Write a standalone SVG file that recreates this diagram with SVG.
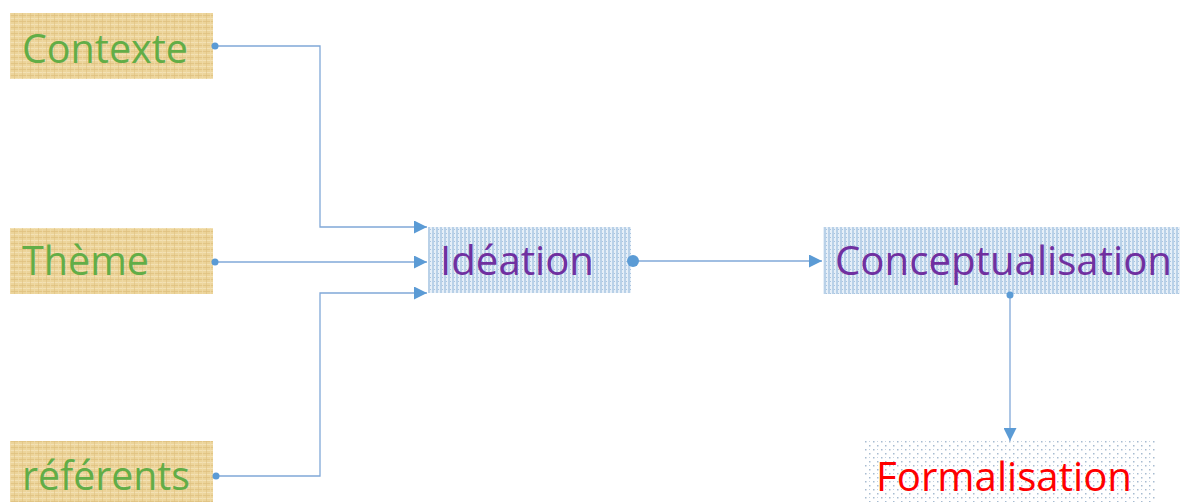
<svg xmlns="http://www.w3.org/2000/svg" width="1192" height="502" viewBox="0 0 1192 502">
<style>
.lbl{font-family:"Open Sans","Liberation Sans",sans-serif;font-size:40px}
.green{fill:#62ad47}
.purple{fill:#7030a0}
.red{fill:#ff0000}
.conn{fill:none;stroke:#80a8d8;stroke-width:1.3}
.dot{fill:#5b9bd5}
</style>
<defs>
<pattern id="papyrus" width="8" height="6" patternUnits="userSpaceOnUse">
<rect width="8" height="6" fill="#ecd49a"/>
<rect x="0" y="0" width="8" height="1" fill="#f3e1b4"/>
<rect x="0" y="3" width="8" height="1" fill="#e2c585"/>
<rect x="2" y="0" width="1" height="6" fill="#f1dcaa" opacity="0.7"/>
<rect x="6" y="0" width="1" height="6" fill="#dfc07e" opacity="0.6"/>
</pattern>
<pattern id="stripes" width="4" height="4" patternUnits="userSpaceOnUse">
<rect width="4" height="4" fill="#e6eff8"/>
<rect x="0" y="0" width="2" height="4" fill="#b9d1e8"/>
<rect x="2" y="1" width="1" height="1" fill="#a9c4df"/>
</pattern>
<pattern id="dots" width="8" height="8" patternUnits="userSpaceOnUse">
<rect width="8" height="8" fill="#ffffff"/>
<rect x="1" y="1" width="1.5" height="1.5" fill="#a7bcd1"/>
<rect x="5" y="5" width="1.5" height="1.5" fill="#a7bcd1"/>
<rect x="5" y="1" width="1" height="1" fill="#c6d3e0"/>
</pattern>
<marker id="arr2" viewBox="0 0 10 10" refX="10" refY="5" markerWidth="14" markerHeight="13" markerUnits="userSpaceOnUse" orient="auto">
<path d="M0,0 L10,5 L0,10 z" fill="#5b9bd5"/>
</marker>
</defs>

<g id="contexte">
<rect x="10" y="13" width="203" height="66" fill="url(#papyrus)"/>
<text class="lbl green" x="22" y="63" textLength="166" lengthAdjust="spacingAndGlyphs">Contexte</text>
</g>
<g id="theme">
<rect x="10" y="228" width="203" height="66" fill="url(#papyrus)"/>
<text class="lbl green" x="22" y="275" textLength="127" lengthAdjust="spacingAndGlyphs">Thème</text>
</g>
<g id="referents">
<rect x="10" y="441" width="203" height="61" fill="url(#papyrus)"/>
<text class="lbl green" x="22" y="490" textLength="168" lengthAdjust="spacingAndGlyphs">référents</text>
</g>
<g id="ideation">
<rect x="428" y="227" width="203" height="66" fill="url(#stripes)"/>
<text class="lbl purple" x="440" y="275" textLength="154" lengthAdjust="spacingAndGlyphs">Idéation</text>
</g>
<g id="conceptualisation">
<rect x="823" y="227" width="357" height="67" fill="url(#stripes)"/>
<text class="lbl purple" x="835" y="275" textLength="337" lengthAdjust="spacingAndGlyphs">Conceptualisation</text>
</g>
<g id="formalisation">
<rect x="865" y="441" width="290" height="61" fill="url(#dots)"/>
<text class="lbl red" x="876" y="491" textLength="256" lengthAdjust="spacingAndGlyphs">Formalisation</text>
</g>

<g id="connectors">
<polyline class="conn" points="215,46 320,46 320,227 427,227" marker-end="url(#arr2)"/>
<polyline class="conn" points="215,262 427,262" marker-end="url(#arr2)"/>
<polyline class="conn" points="216,476 320,476 320,293 427,293" marker-end="url(#arr2)"/>
<polyline class="conn" points="633,261 822,261" marker-end="url(#arr2)"/>
<polyline class="conn" points="1010,295 1010,441" marker-end="url(#arr2)"/>
<circle class="dot" cx="215" cy="46" r="3.5"/>
<circle class="dot" cx="215" cy="262" r="3.5"/>
<circle class="dot" cx="216" cy="476" r="3.5"/>
<circle class="dot" cx="633" cy="261" r="6"/>
<circle class="dot" cx="1010" cy="295" r="3.5"/>
</g>
</svg>
